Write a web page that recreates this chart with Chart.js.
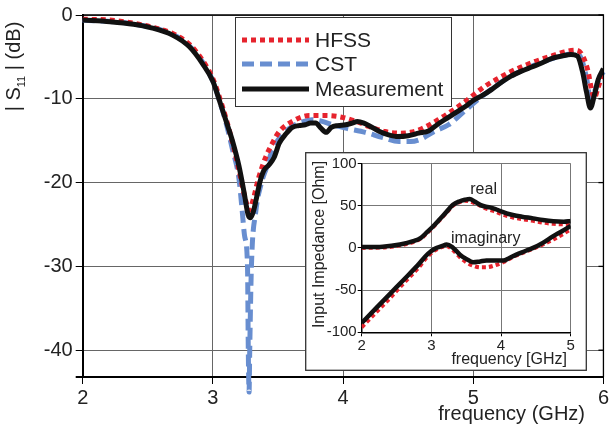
<!DOCTYPE html>
<html>
<head>
<meta charset="utf-8">
<script src="https://cdn.jsdelivr.net/npm/chart.js@4.4.0/dist/chart.umd.min.js"></script>
<style>
  body { margin: 0; background: #fff; }
  #wrap { position: relative; width: 611px; height: 428px; }
  #main { position: absolute; left: 0; top: 0; }
  #inset { position: absolute; left: 305px; top: 152px; }
</style>
</head>
<body>
<div id="wrap">
  <canvas id="main" width="611" height="428"></canvas>
  <canvas id="inset" width="282" height="219"></canvas>
</div>
<script>
// main plot |S11| in dB
const hfssFreq = [2.0, 2.2, 2.4, 2.52, 2.69, 2.82, 2.92, 3.0, 3.05, 3.1, 3.15, 3.2, 3.25, 3.28, 3.31, 3.35, 3.41, 3.46, 3.51, 3.61, 3.74, 3.87, 3.99, 4.1, 4.2, 4.32, 4.43, 4.52, 4.6, 4.73, 4.84, 4.94, 5.09, 5.2, 5.29, 5.4, 5.5, 5.6, 5.7, 5.78, 5.83, 5.88, 5.91, 5.93, 5.96, 6.0];
const hfssS11 = [-0.5, -0.6, -1.0, -1.4, -2.2, -3.5, -5.4, -7.6, -9.8, -12.3, -15.2, -18.5, -22.0, -23.3, -22.0, -19.5, -16.8, -15.2, -13.9, -12.7, -12.0, -12.0, -12.2, -12.7, -13.3, -13.9, -14.1, -14.0, -13.6, -12.5, -11.4, -10.3, -8.5, -7.5, -6.75, -6.0, -5.4, -4.9, -4.4, -4.2, -4.6, -6.6, -9.0, -9.9, -8.6, -6.8];

const cstFreq = [2.0, 2.4, 2.69, 2.82, 2.92, 3.0, 3.05, 3.1, 3.15, 3.2, 3.223, 3.245, 3.266, 3.272, 3.278, 3.283, 3.296, 3.33, 3.37, 3.41, 3.46, 3.51, 3.61, 3.7, 3.76, 3.84, 3.92, 4.02, 4.17, 4.3, 4.43, 4.52, 4.6, 4.7, 4.81, 4.96, 5.1, 5.3, 5.5, 5.7, 5.78, 5.83, 5.87, 5.9, 5.93, 5.97, 6.0];
const cstS11 = [-0.6, -1.1, -2.3, -3.7, -5.6, -7.9, -10.2, -12.8, -16.0, -19.5, -23, -26.5, -30, -40, -45, -40, -30, -23.4, -20.2, -18.3, -16.0, -14.7, -13.3, -12.7, -12.5, -12.7, -13.1, -13.5, -14.0, -14.6, -15.1, -15.1, -14.8, -13.9, -13.1, -11.1, -9.3, -7.2, -5.8, -4.8, -4.6, -5.2, -7.5, -10.0, -9.2, -7.5, -6.8];

const measFreq = [2.0, 2.21, 2.39, 2.52, 2.69, 2.82, 2.92, 3.0, 3.05, 3.1, 3.15, 3.2, 3.24, 3.27, 3.29, 3.31, 3.33, 3.36, 3.39, 3.43, 3.47, 3.51, 3.56, 3.61, 3.66, 3.71, 3.75, 3.79, 3.83, 3.87, 3.91, 3.96, 4.02, 4.07, 4.11, 4.16, 4.21, 4.28, 4.35, 4.42, 4.5, 4.58, 4.66, 4.73, 4.8, 4.89, 4.95, 5.0, 5.07, 5.14, 5.22, 5.29, 5.37, 5.45, 5.53, 5.6, 5.68, 5.75, 5.8, 5.84, 5.87, 5.9, 5.93, 5.96, 6.0];
const measS11 = [-0.6, -0.8, -1.1, -1.5, -2.4, -3.8, -5.8, -7.9, -10.2, -12.6, -15.0, -18.0, -21.2, -23.8, -24.2, -23.5, -22.2, -20.0, -18.6, -17.9, -17.0, -15.3, -14.2, -13.4, -13.2, -13.1, -12.9, -12.9, -13.5, -14.0, -13.4, -13.2, -13.1, -12.9, -12.7, -12.9, -13.3, -13.9, -14.3, -14.5, -14.4, -14.1, -13.8, -13.0, -12.3, -11.4, -10.8, -10.2, -9.6, -8.9, -8.0, -7.3, -6.7, -6.2, -5.7, -5.2, -4.9, -4.7, -4.9, -6.8, -9.2, -11.1, -9.6, -7.7, -6.4];

const freqTicks = [2, 3, 4, 5, 6];
const s11Ticks = [0, -10, -20, -30, -40];

// inset: input impedance in Ohm
const realFreq = [2.0, 2.3, 2.55, 2.74, 2.85, 2.93, 3.03, 3.12, 3.22, 3.31, 3.4, 3.48, 3.55, 3.62, 3.7, 3.77, 3.84, 3.92, 3.98, 4.08, 4.17, 4.3, 4.46, 4.6, 4.75, 4.9, 5.0];
const realMeas = [1, 1.5, 4, 8, 12, 18, 26, 34, 43, 51, 55, 57, 58, 55, 51, 49, 48, 46, 44, 41, 39, 37, 35, 33, 31.5, 31, 32];
const realHfss = [0, 0.5, 3, 7, 11, 17, 25, 33, 42, 50, 54, 56, 55, 53, 50, 47, 45, 43, 41, 38, 36, 34, 32, 30, 28.5, 28, 29];

const imagFreq = [2.0, 2.2, 2.4, 2.6, 2.8, 2.95, 3.05, 3.15, 3.22, 3.3, 3.41, 3.5, 3.6, 3.7, 3.79, 3.9, 4.03, 4.12, 4.22, 4.34, 4.46, 4.6, 4.75, 4.88, 5.0];
const imagMeas = [-89, -72, -55, -38, -21, -7, -1, 2, 4, 1, -8, -13, -17, -16, -15, -15, -15, -12, -8, -4, 0, 6, 14, 20, 26];
const imagHfss = [-94, -77, -60, -42, -25, -10, -3, 1, 2, -2, -11, -17, -21, -23, -23, -21, -17, -13, -9, -5, -1, 4, 10, 16, 22];

const insetFreqTicks = [2, 3, 4, 5];
const impTicks = [-100, -50, 0, 50, 100];

const RED = 'rgb(230,35,45)';
const BLUE = 'rgb(104,142,208)';
const BLACK = '#111';
const FONT = 'Liberation Sans';

function pts(xs, ys) {
  return xs.map((x, i) => ({ x: x, y: ys[i] }));
}
function setTicks(list) {
  return function (scale) { scale.ticks = list.map(v => ({ value: v })); };
}

// frame, legend and titles of the main plot
const mainDeco = {
  id: 'mainDeco',
  afterDraw(chart) {
    const ctx = chart.ctx;
    const a = chart.chartArea;
    const ys = chart.scales.y;
    ctx.save();
    ctx.strokeStyle = '#000';
    ctx.lineWidth = 1.3;
    ctx.beginPath();
    ctx.moveTo(a.left, a.top);
    ctx.lineTo(a.right, a.top);
    ctx.lineTo(a.right, a.bottom);
    ctx.stroke();
    s11Ticks.forEach(v => {
      const y = ys.getPixelForValue(v);
      ctx.beginPath();
      ctx.moveTo(a.right - 5, y);
      ctx.lineTo(a.right, y);
      ctx.stroke();
    });
    ctx.lineWidth = 2;
    ctx.beginPath();
    ctx.moveTo(a.left - 7, a.bottom);
    ctx.lineTo(a.left, a.bottom);
    ctx.stroke();

    // legend box
    ctx.fillStyle = '#fff';
    ctx.fillRect(235, 17, 216, 89);
    ctx.strokeStyle = '#333';
    ctx.lineWidth = 1;
    ctx.strokeRect(235.5, 17.5, 216, 89);
    const rows = [40, 64, 89];
    chart.data.datasets.forEach((ds, i) => {
      ctx.strokeStyle = ds.borderColor;
      ctx.lineWidth = ds.borderWidth;
      ctx.setLineDash(ds.borderDash || []);
      ctx.beginPath();
      ctx.moveTo(242, rows[i]);
      ctx.lineTo(309, rows[i]);
      ctx.stroke();
      ctx.setLineDash([]);
      ctx.fillStyle = '#222';
      ctx.font = '21px "' + FONT + '"';
      ctx.textAlign = 'left';
      ctx.textBaseline = 'middle';
      ctx.fillText(ds.label, 315, rows[i] + 1);
    });

    // x title
    ctx.fillStyle = '#222';
    ctx.font = '20px "' + FONT + '"';
    ctx.textAlign = 'right';
    ctx.textBaseline = 'alphabetic';
    ctx.fillText('frequency (GHz)', 585, 420);

    // y title |S11| (dB), rotated
    const segs = [['| S', 20, 0], ['11', 11, 5], [' | (dB)', 20, 0]];
    let total = 0;
    segs.forEach(s => { ctx.font = s[1] + 'px "' + FONT + '"'; total += ctx.measureText(s[0]).width; });
    ctx.translate(20, 66.5);
    ctx.rotate(-Math.PI / 2);
    ctx.textAlign = 'left';
    let x = -total / 2;
    segs.forEach(s => {
      ctx.font = s[1] + 'px "' + FONT + '"';
      ctx.fillText(s[0], x, s[2]);
      x += ctx.measureText(s[0]).width;
    });
    ctx.restore();
  }
};

new Chart(document.getElementById('main'), {
  type: 'line',
  data: {
    datasets: [
      { label: 'HFSS', data: pts(hfssFreq, hfssS11), borderColor: RED, borderWidth: 5, borderDash: [5, 4], order: 1 },
      { label: 'CST', data: pts(cstFreq, cstS11), borderColor: BLUE, borderWidth: 5, borderDash: [12, 6], order: 2, clip: false },
      { label: 'Measurement', data: pts(measFreq, measS11), borderColor: BLACK, borderWidth: 5, order: 0 }
    ]
  },
  options: {
    responsive: false,
    animation: false,
    layout: { padding: { top: 13, right: 5, left: 0, bottom: 0 } },
    elements: { point: { radius: 0 }, line: { cubicInterpolationMode: 'monotone' } },
    plugins: { legend: { display: false }, tooltip: { enabled: false } },
    scales: {
      x: {
        type: 'linear', min: 2, max: 6,
        afterBuildTicks: setTicks(freqTicks),
        afterFit: s => { s.height = 51; },
        grid: { color: '#666', lineWidth: 1, tickColor: '#000', tickLength: 7 },
        border: { color: '#000', width: 2 },
        ticks: { color: '#222', font: { family: FONT, size: 20 }, padding: 2, maxRotation: 0, includeBounds: false }
      },
      y: {
        min: -43.2, max: 0,
        afterBuildTicks: setTicks(s11Ticks),
        afterFit: s => { s.width = 82.7; },
        grid: { color: '#666', lineWidth: 1, tickColor: '#000', tickLength: 7 },
        border: { color: '#000', width: 2 },
        ticks: { color: '#222', font: { family: FONT, size: 20 }, padding: 3, includeBounds: false }
      }
    }
  },
  plugins: [mainDeco]
});

// inset
const insetLabels = [
  { text: 'real', f: 3.75, v: 69 },
  { text: 'imaginary', f: 3.78, v: 11 }
];

const insetDeco = {
  id: 'insetDeco',
  beforeDraw(chart) {
    const ctx = chart.ctx;
    ctx.save();
    ctx.fillStyle = '#fff';
    ctx.fillRect(0, 0, chart.width, chart.height);
    ctx.restore();
  },
  afterDraw(chart) {
    const ctx = chart.ctx;
    const xs = chart.scales.x, ys = chart.scales.y;
    ctx.save();
    ctx.strokeStyle = '#333';
    ctx.lineWidth = 1.3;
    ctx.strokeRect(0.7, 0.7, chart.width - 1.4, chart.height - 1.4);
    ctx.fillStyle = '#222';
    ctx.font = '16px "' + FONT + '"';
    ctx.textAlign = 'center';
    ctx.textBaseline = 'middle';
    insetLabels.forEach(l => {
      ctx.fillText(l.text, xs.getPixelForValue(l.f), ys.getPixelForValue(l.v));
    });
    ctx.textAlign = 'right';
    ctx.textBaseline = 'alphabetic';
    ctx.fillText('frequency [GHz]', 262, 212);
    ctx.translate(15, 92.5);
    ctx.rotate(-Math.PI / 2);
    ctx.textAlign = 'center';
    ctx.textBaseline = 'middle';
    ctx.fillText('Input Impedance [Ohm]', 0, 0);
    ctx.restore();
  }
};

new Chart(document.getElementById('inset'), {
  type: 'line',
  data: {
    datasets: [
      { label: 'real meas', data: pts(realFreq, realMeas), borderColor: BLACK, borderWidth: 4.5, order: 0 },
      { label: 'imag meas', data: pts(imagFreq, imagMeas), borderColor: BLACK, borderWidth: 4.5, order: 0 },
      { label: 'real HFSS', data: pts(realFreq, realHfss), borderColor: RED, borderWidth: 4, borderDash: [4, 3], order: 1 },
      { label: 'imag HFSS', data: pts(imagFreq, imagHfss), borderColor: RED, borderWidth: 4, borderDash: [4, 3], order: 1 }
    ]
  },
  options: {
    responsive: false,
    animation: false,
    layout: { padding: { top: 11.5, right: 16.3, left: 0, bottom: 0 } },
    elements: { point: { radius: 0 }, line: { cubicInterpolationMode: 'monotone' } },
    plugins: { legend: { display: false }, tooltip: { enabled: false } },
    scales: {
      x: {
        type: 'linear', min: 2, max: 5,
        afterBuildTicks: setTicks(insetFreqTicks),
        afterFit: s => { s.height = 38.7; },
        grid: { color: '#777', lineWidth: 1, tickColor: '#000', tickLength: 4 },
        border: { color: '#000', width: 1.5 },
        ticks: { color: '#222', font: { family: FONT, size: 15 }, padding: 1, maxRotation: 0 }
      },
      y: {
        min: -100, max: 100,
        afterBuildTicks: setTicks(impTicks),
        afterFit: s => { s.width = 56.7; },
        grid: { color: '#777', lineWidth: 1, tickColor: '#000', tickLength: 4 },
        border: { color: '#000', width: 1.5 },
        ticks: { color: '#222', font: { family: FONT, size: 15 }, padding: 1 }
      }
    }
  },
  plugins: [insetDeco]
});
</script>
</body>
</html>
